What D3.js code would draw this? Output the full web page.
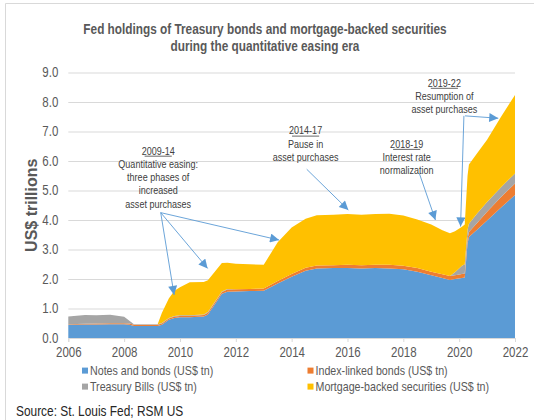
<!doctype html>
<html lang="en">
<head>
<meta charset="utf-8">
<title>Fed holdings during QE</title>
<script src="https://cdn.jsdelivr.net/npm/d3@7"></script>
<style>
  html, body { margin: 0; padding: 0; background: #fff; }
  svg { display: block; font-family: "Liberation Sans Narrow", "Liberation Sans", Arial, sans-serif; }
</style>
</head>
<body>
<svg id="chart" width="534" height="420"></svg>
<script>
// ---- data (US$ trillions) ----
const dates = [2006.0, 2006.6, 2007.0, 2007.5, 2008.0, 2008.2, 2008.35, 2009.2, 2009.35, 2009.6,
  2009.8, 2010.0, 2010.35, 2010.85, 2011.0, 2011.5, 2011.7, 2012.0, 2012.5, 2013.0,
  2013.5, 2014.0, 2014.5, 2014.9, 2015.5, 2016.0, 2016.5, 2017.0, 2017.5, 2018.0,
  2018.5, 2019.0, 2019.4, 2019.67, 2019.85, 2020.1, 2020.2, 2020.3, 2020.35, 2020.65,
  2021.0, 2021.5, 2022.0];
const notesBonds = [0.45, 0.46, 0.46, 0.47, 0.47, 0.45, 0.41, 0.41, 0.45, 0.62,
  0.68, 0.70, 0.70, 0.73, 0.80, 1.50, 1.57, 1.58, 1.59, 1.60,
  1.85, 2.08, 2.28, 2.36, 2.37, 2.37, 2.36, 2.37, 2.36, 2.33,
  2.25, 2.13, 2.03, 1.97, 2.00, 2.03, 2.05, 3.20, 3.42, 3.68,
  3.98, 4.42, 4.85];
const indexLinked = [0.02, 0.02, 0.03, 0.03, 0.03, 0.04, 0.04, 0.04, 0.04, 0.04,
  0.05, 0.05, 0.05, 0.05, 0.06, 0.06, 0.07, 0.07, 0.07, 0.08,
  0.08, 0.09, 0.10, 0.10, 0.10, 0.11, 0.11, 0.11, 0.12, 0.12,
  0.12, 0.12, 0.13, 0.13, 0.13, 0.14, 0.14, 0.16, 0.17, 0.23,
  0.30, 0.36, 0.39];
const treasuryBills = [0.26, 0.30, 0.28, 0.29, 0.22, 0.09, 0.02, 0.02, 0.02, 0.02,
  0.02, 0.02, 0.02, 0.02, 0.02, 0.02, 0.02, 0, 0, 0,
  0, 0, 0, 0, 0, 0, 0, 0, 0, 0,
  0, 0, 0, 0, 0.10, 0.28, 0.31, 0.30, 0.28, 0.32,
  0.33, 0.33, 0.34];
const mbs = [0, 0, 0, 0, 0, 0, 0, 0, 0.34, 0.66,
  0.85, 0.95, 1.12, 1.10, 1.08, 0.96, 0.89, 0.87, 0.84, 0.80,
  1.32, 1.58, 1.66, 1.70, 1.71, 1.72, 1.71, 1.72, 1.73, 1.70,
  1.65, 1.60, 1.49, 1.45, 1.39, 1.32, 1.35, 1.84, 2.01, 2.04,
  2.11, 2.39, 2.66];

const seriesKeys = ["notes", "tips", "bills", "mbs"];
const seriesNames = ["Notes and bonds (US$ tn)", "Index-linked bonds (US$ tn)",
  "Treasury Bills (US$ tn)", "Mortgage-backed securities (US$ tn)"];
const seriesColors = ["#5b9bd5", "#ed7d31", "#a5a5a5", "#ffc000"];

const yTicks = [0, 1, 2, 3, 4, 5, 6, 7, 8, 9];
const xTicks = [2006, 2008, 2010, 2012, 2014, 2016, 2018, 2020, 2022];

// annotations, anchored in data space: [year, value]
const notes = [
  { head: "2009-14", lines: ["Quantitative easing:", "three phases of", "increased", "asset purchases"],
    at: [2009.22, 6.35],
    arrows: [
      { from: [2009.31, 4.25], to: [2009.79, 1.46] },
      { from: [2009.31, 4.25], to: [2010.99, 2.36] },
      { from: [2009.31, 4.25], to: [2013.55, 3.32] }
    ] },
  { head: "2014-17", lines: ["Pause in", "asset purchases"],
    at: [2014.5, 7.03],
    arrows: [{ from: [2014.54, 5.72], to: [2016.03, 4.34] }] },
  { head: "2018-19", lines: ["Interest rate", "normalization"],
    at: [2018.12, 6.58],
    arrows: [{ from: [2018.57, 5.59], to: [2019.15, 4.0] }] },
  { head: "2019-22", lines: ["Resumption of", "asset purchases"],
    at: [2019.47, 8.65],
    arrows: [
      { from: [2020.21, 7.53], to: [2021.40, 7.45] },
      { from: [2020.17, 7.53], to: [2020.05, 3.78] }
    ] }
];

// ---- layout ----
const svg = d3.select("#chart");
const x = d3.scaleLinear().domain([2006, 2022]).range([68.3, 515]);
const y = d3.scaleLinear().domain([0, 9]).range([338, 72.5]);
const textGray = "#595959";

// no narrow font installed: squeeze Arial-metric text to Arial Narrow width
const NARROW = 0.82;
function narrow(sel) {
  sel.each(function () {
    const w = this.getComputedTextLength();
    d3.select(this).attr("textLength", w * NARROW).attr("lengthAdjust", "spacingAndGlyphs");
  });
  return sel;
}

// frame
svg.append("path").attr("d", "M5.5,420 V3.5 H534")
  .attr("fill", "none").attr("stroke", "#d9d9d9");

// title
[["Fed holdings of Treasury bonds and mortgage-backed securities", 29],
 ["during the quantitative easing era", 46]].forEach(([t, ty]) => {
  svg.append("text").attr("x", 265).attr("y", ty).attr("dy", "0.35em")
    .attr("text-anchor", "middle").attr("font-weight", "bold").attr("font-size", 14.4)
    .attr("fill", textGray).text(t).call(narrow);
});

// gridlines + y labels
const yAxis = d3.axisLeft(y).tickValues(yTicks).tickFormat(d3.format(".1f"))
  .tickSize(-(515 - 68.3)).tickPadding(10);
const gy = svg.append("g").attr("transform", "translate(68.3,0)").call(yAxis);
gy.select(".domain").remove();
gy.selectAll(".tick line").attr("stroke", "#d9d9d9");
gy.selectAll(".tick text").attr("font-size", 14).attr("fill", textGray)
  .style("font-family", "inherit").call(narrow);

// stacked areas
const rows = dates.map((d, i) => ({
  date: d, notes: notesBonds[i], tips: indexLinked[i], bills: treasuryBills[i], mbs: mbs[i]
}));
const stacked = d3.stack().keys(seriesKeys)(rows);
const area = d3.area()
  .x(d => x(d.data.date))
  .y0(d => y(d[0]))
  .y1(d => y(d[1]));
svg.append("g").selectAll("path").data(stacked).join("path")
  .attr("d", area)
  .attr("fill", (d, i) => seriesColors[i]);

// x axis
const xAxis = d3.axisBottom(x).tickValues(xTicks).tickFormat(d3.format("d"))
  .tickSize(4).tickPadding(5);
const gx = svg.append("g").attr("transform", `translate(0,${y(0)})`).call(xAxis);
gx.select(".domain").attr("stroke", "#d9d9d9");
gx.selectAll(".tick line").attr("stroke", "#d9d9d9");
gx.selectAll(".tick text").attr("font-size", 14).attr("fill", textGray)
  .style("font-family", "inherit").call(narrow);

// y axis title
svg.append("text")
  .attr("transform", `translate(31.7,${y(4.5)}) rotate(-90)`)
  .attr("dy", "0.35em").attr("text-anchor", "middle")
  .attr("font-family", "'Liberation Sans', Arial, sans-serif")
  .attr("font-weight", "bold").attr("font-size", 16).attr("fill", textGray)
  .text("US$ trillions");

// annotations
const arrowColor = "#5b9bd5";
svg.append("defs").append("marker")
  .attr("id", "head").attr("viewBox", "0 0 10 10")
  .attr("refX", 10).attr("refY", 5)
  .attr("markerWidth", 10).attr("markerHeight", 9)
  .attr("markerUnits", "userSpaceOnUse")
  .attr("orient", "auto")
  .append("path").attr("d", "M0,0 L10,5 L0,10 Z").attr("fill", arrowColor);

const lineGap = 13.3;
notes.forEach(n => {
  const cx = x(n.at[0]), cy = y(n.at[1]);
  const head = svg.append("text").attr("x", cx).attr("y", cy).attr("dy", "0.35em")
    .attr("text-anchor", "middle").attr("font-size", 11).attr("fill", "#404040")
    .text(n.head).call(narrow);
  const w = head.node().getComputedTextLength() * NARROW;
  svg.append("line").attr("x1", cx - w / 2).attr("x2", cx + w / 2)
    .attr("y1", cy + 5.5).attr("y2", cy + 5.5).attr("stroke", "#404040").attr("stroke-width", 0.8);
  n.lines.forEach((t, i) => {
    svg.append("text").attr("x", cx).attr("y", cy + lineGap * (i + 1)).attr("dy", "0.35em")
      .attr("text-anchor", "middle").attr("font-size", 11).attr("fill", "#404040")
      .text(t).call(narrow);
  });
  n.arrows.forEach(a => {
    svg.append("line")
      .attr("x1", x(a.from[0])).attr("y1", y(a.from[1]))
      .attr("x2", x(a.to[0])).attr("y2", y(a.to[1]))
      .attr("stroke", arrowColor).attr("stroke-width", 0.9)
      .attr("marker-end", "url(#head)");
  });
});

// legend
const legendPos = [[85, 370.6], [310.5, 370.6], [85, 386.6], [310.5, 386.6]];
seriesNames.forEach((name, i) => {
  const [lx, ly] = legendPos[i];
  svg.append("rect").attr("x", lx - 3).attr("y", ly - 3).attr("width", 6).attr("height", 6)
    .attr("fill", seriesColors[i]);
  svg.append("text").attr("x", lx + 5).attr("y", ly).attr("dy", "0.35em")
    .attr("font-size", 13).attr("fill", textGray).text(name).call(narrow);
});

// source
svg.append("text").attr("x", 16).attr("y", 410.5).attr("dy", "0.35em")
  .attr("font-size", 14.5).attr("fill", "#262626").text("Source: St. Louis Fed; RSM US").call(narrow);
</script>
</body>
</html>
